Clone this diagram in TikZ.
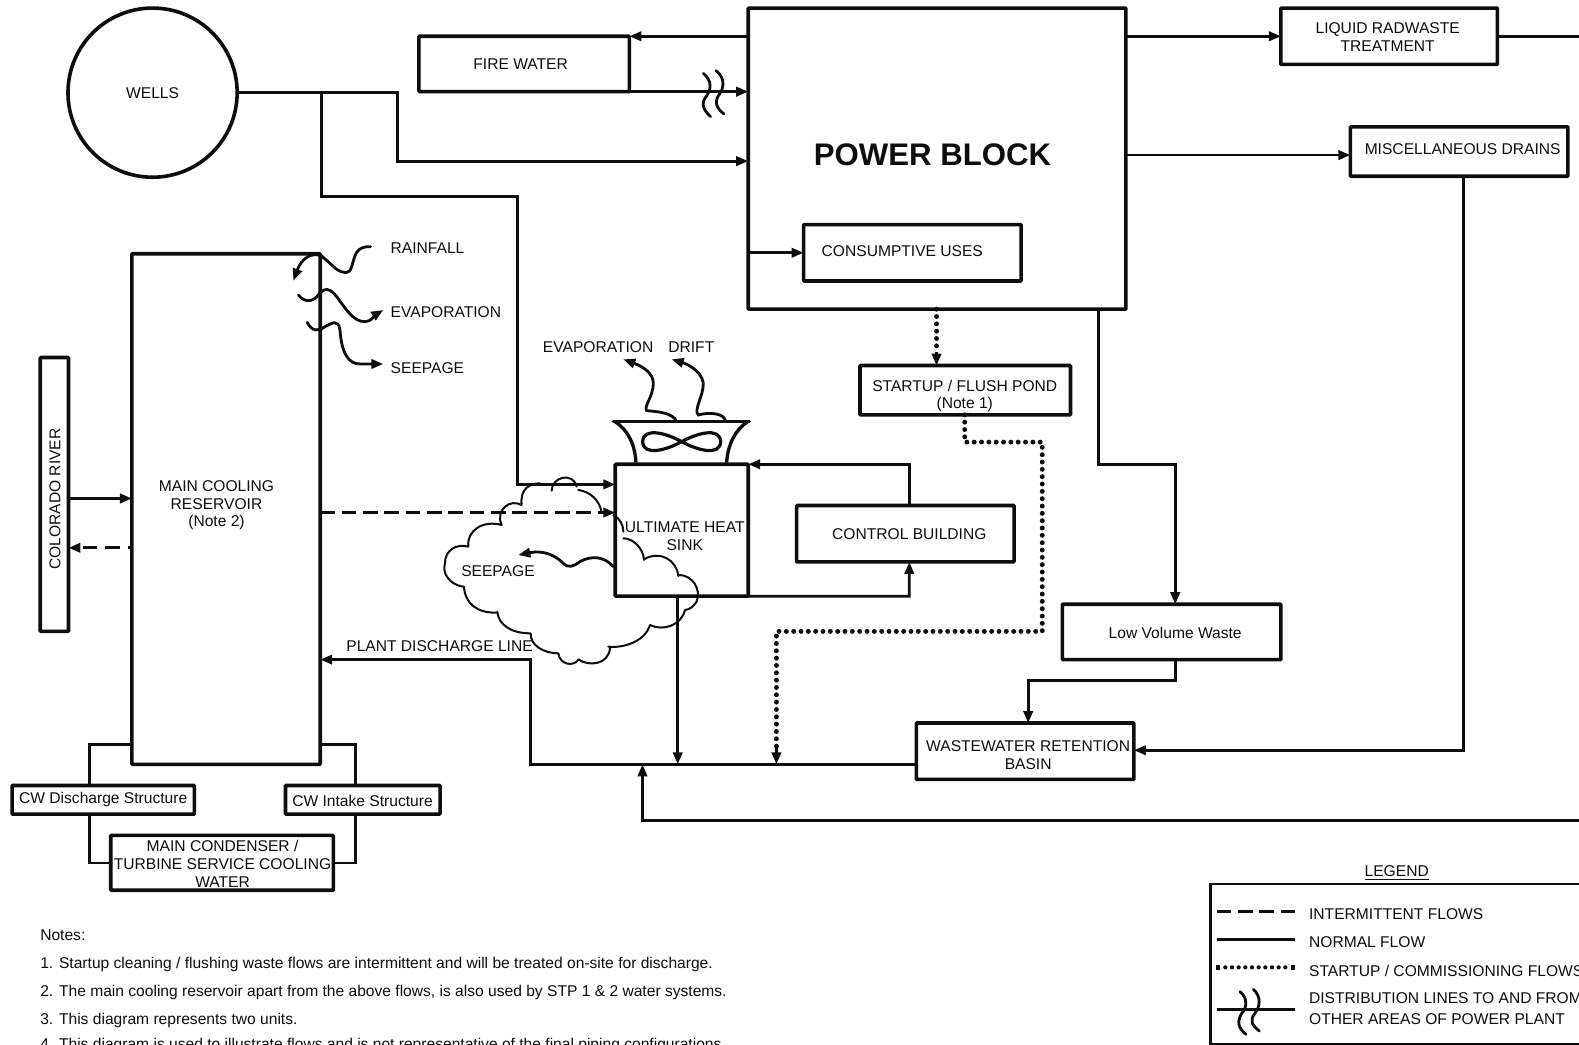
\documentclass[tikz,border=0pt]{standalone}
\usepackage{fontspec}
\setmainfont{Liberation Sans}
\usetikzlibrary{arrows.meta,calc}
\definecolor{ink}{gray}{0.05}
\tikzset{
  box/.style={draw=ink,line width=2.7pt,inner sep=0pt,outer sep=0pt,align=center,font=\fontsize{11.7}{13.6}\selectfont,text=ink,rounded corners=0.6pt},
  lbl/.style={inner sep=0pt,outer sep=0pt,align=center,font=\fontsize{11.7}{13.6}\selectfont,text=ink,yshift=-0.5pt},
  tight/.style={font=\fontsize{11.7}{12.9}\selectfont},
  tip/.style={-{Triangle[length=9pt,width=7pt]}},
  flow/.style={draw=ink,line width=2.1pt,line join=miter},
  flowa/.style={flow,tip},
  dashflow/.style={flow,dash pattern=on 11pt off 5pt},
  dotflow/.style={draw=ink,line width=3.7pt,line cap=round,dash pattern=on 0pt off 5.5pt},
  wavy/.style={draw=ink,line width=2.1pt,line cap=round},
  cloudline/.style={draw=ink,line width=1.5pt,line cap=round},
}
\newcommand{\bx}[6]{\node[box,minimum width={(#4-#2)*0.7553pt},minimum height={(#5-#3)*0.7553pt}] (#1) at ({(#2+#4)/2},{(#3+#5)/2}) {#6};}
\begin{document}
\begin{tikzpicture}[x=0.7553pt,y=-0.7553pt]
\useasboundingbox (0,0) rectangle (1568,1037.7);
% boxes
\node[box,circle,minimum size={168*0.7553pt}] (wells) at (151.5,92) {WELLS};
\bx{fw}{416}{36}{625}{91}{}
\node[lbl] (fwlbl) at (517,63) {FIRE WATER};
\bx{pb}{743}{8}{1118}{307}{}
\node[lbl,font=\fontsize{23.4}{26}\selectfont\bfseries] (pblbl) at (926,153) {POWER BLOCK};
\bx{lrw}{1272}{8}{1487}{64}{}
\node[lbl] (lrwlbl) at (1378,36) {LIQUID RADWASTE\\TREATMENT};
\bx{misc}{1341}{126}{1557}{175}{}
\node[lbl] (misclbl) at (1452.5,147) {MISCELLANEOUS DRAINS};
\bx{cons}{798}{223}{1014}{279}{}
\node[lbl] (conslbl) at (896,249) {CONSUMPTIVE USES};
\bx{start}{854}{363}{1063}{412}{}
\node[lbl,tight] (startlbl) at (958,392.5) {STARTUP / FLUSH POND\\(Note 1)};
\bx{mcr}{131}{252}{318}{759}{}
\node[lbl,tight] (mcrlbl) at (215,501) {MAIN COOLING\\RESERVOIR\\(Note 2)};
\bx{cr}{40}{355}{68}{627}{}
\node[lbl,rotate=90] (crlbl) at (54.5,495) {COLORADO RIVER};
\bx{uhs}{611}{461}{743}{592}{}
\node[lbl] (uhslbl) at (680,532) {ULTIMATE HEAT\\SINK};
\bx{ctrl}{791}{502}{1007}{558}{}
\node[lbl] (ctrllbl) at (903,530) {CONTROL BUILDING};
\bx{lvw}{1055}{600}{1272}{655}{}
\node[lbl] (lvwlbl) at (1167,628) {Low Volume Waste};
\bx{wrb}{910}{718}{1126}{774}{}
\node[lbl] (wrblbl) at (1021,749) {WASTEWATER RETENTION\\BASIN};
\bx{cwd}{12}{780}{193}{808.5}{}
\node[lbl] (cwdlbl) at (102.5,793.5) {CW Discharge Structure};
\bx{cwi}{283.5}{780}{437}{808.5}{}
\node[lbl] (cwilbl) at (360,795) {CW Intake Structure};
\bx{mc}{110}{829.5}{331}{884}{}
\node[lbl] (mclbl) at (221,857) {MAIN CONDENSER /\\TURBINE SERVICE COOLING\\WATER};
% connectors
\coordinate (jw) at (319,0 |- wells.east);
\coordinate (off1) at (1568,36);
\coordinate (off2) at (1568,815);
\draw[flow] (wells.east) -- (jw);
\draw[flowa] (jw) -- (395,0 |- jw) -- (395,160) -- (pb.west |- 0,160);
\draw[flowa] (jw) -- (319,195) -- (514,195) -- (514,481) -- (uhs.west |- 0,481);
\draw[flowa] (pb.west |- fw.north) -- (fw.north east);
\draw[flowa] (fw.south east) -- (pb.west |- fw.south);
\draw[flowa] (pb.east |- off1) -- (lrw.west |- off1);
\draw[flow] (lrw.east |- off1) -- (off1);
\draw[flowa] (pb.east |- 0,154) -- (misc.west |- 0,154);
\draw[flowa] (1453,0 |- misc.south) -- (1453,745) -- (wrb.east |- 0,745);
\draw[flowa] (pb.west |- 0,251) -- (cons.west |- 0,251);
\draw[dotflow] (930,0 |- pb.south) -- (930,350);
\draw[flow,tip] (930,350) -- (930,0 |- start.north);
\draw[dotflow] (958,0 |- start.south) -- (958,439) -- (1035,439) -- (1035,627) -- (771,627) -- (771,745);
\draw[flow,tip] (771,743) -- (771,759);
\draw[flowa] (1091,0 |- pb.south) -- (1091,461) -- (1167,461) -- (1167,0 |- lvw.north);
\draw[flowa] (1167,0 |- lvw.south) -- (1167,676) -- (1021,676) -- (1021,0 |- wrb.north);
\draw[flowa] (wrb.west |- 0,759) -- (527,759) -- (527,655) -- (mcr.east |- 0,655);
\draw[flowa] (673,0 |- uhs.south) -- (673,759);
\draw[flowa] (off2) -- (638,815) -- (638,759);
\draw[flowa] (903,0 |- ctrl.north) -- (903,461) -- (uhs.east |- 0,461);
\draw[flowa] (uhs.south east) -- (903,592) -- (903,0 |- ctrl.south);
\draw[flowa] (cr.east |- 0,495) -- (mcr.west |- 0,495);
\draw[flow,tip,dash pattern=on 11pt off 6pt,dash phase=8pt] (mcr.west |- 0,544) -- (cr.east |- 0,544);
\draw[dashflow,tip] (mcr.east |- 0,509) -- (uhs.west |- 0,509);
\draw[flow] (mcr.west |- 0,739) -- (89,739) -- (89,0 |- cwd.north);
\draw[flow] (mcr.east |- 0,739) -- (353,739) -- (353,0 |- cwi.north);
\draw[flow] (89,0 |- cwd.south) -- (89,857) -- (mc.west |- 0,857);
\draw[flow] (353,0 |- cwi.south) -- (353,857) -- (mc.east |- 0,857);
% distribution break on the fire water line
\begin{scope}[shift={(595.8,19.86)},x=0.25pt,y=-0.25pt]
  \draw[wavy] (310,160) .. controls (340,185) and (330,210) .. (322,225) .. controls (300,250) and (310,270) .. (332,290);
  \draw[wavy] (348,152) .. controls (378,175) and (370,205) .. (360,220) .. controls (340,245) and (350,265) .. (372,282);
\end{scope}
% squiggles, tower, cloud
\begin{scope}[shift={(278.05,218.47)},x=0.25pt,y=-0.25pt]
  \draw[wavy,tip] (272,80) .. controls (225,78) and (225,110) .. (215,140) .. controls (208,165) and (190,160) .. (170,148) -- (125,108) .. controls (95,95) and (65,115) .. (40,182);
  \draw[wavy,tip] (55,225) .. controls (75,250) and (100,245) .. (115,225) .. controls (135,200) and (150,205) .. (170,230) .. controls (200,270) and (220,305) .. (255,305) .. controls (275,305) and (285,285) .. (310,270);
  \draw[wavy,tip] (82,307) .. controls (95,335) and (115,335) .. (135,320) .. controls (155,310) and (175,295) .. (180,330) .. controls (185,400) and (205,432) .. (240,432) -- (310,432);
  \draw[wavy,tip] (1190,605) .. controls (1180,580) and (1140,575) .. (1100,572) .. controls (1090,560) and (1120,530) .. (1120,490) .. controls (1120,460) and (1090,440) .. (1030,418);
  \draw[wavy,tip] (1337,605) .. controls (1335,580) and (1290,575) .. (1255,585) .. controls (1240,570) and (1270,530) .. (1270,490) .. controls (1265,450) and (1215,430) .. (1175,418);
  \draw[wavy,tip] (1000,1040) .. controls (975,1010) and (935,1005) .. (900,1025) .. controls (880,1040) and (865,1045) .. (850,1030) .. controls (825,1005) and (790,990) .. (715,1005);
  % cooling tower
  \draw[flow,line width=2.5pt,line cap=round] (1000,605) -- (1408,605);
  \draw[flow,line width=2.5pt] (1005,605) .. controls (1045,630) and (1065,675) .. (1068,728);
  \draw[flow,line width=2.5pt] (1403,605) .. controls (1365,630) and (1343,675) .. (1340,728);
  \draw[flow,line width=2.4pt] (1205,665) .. controls (1250,640) and (1320,620) .. (1322,665) .. controls (1320,710) and (1250,690) .. (1205,665) .. controls (1160,640) and (1090,620) .. (1088,665) .. controls (1090,710) and (1160,690) .. (1205,665);
  % cloud
  \draw[cloudline]
    (725,855) .. controls (720,810) and (745,790) .. (780,790)
    (815,812) .. controls (815,770) and (880,755) .. (890,800)
    (895,810) .. controls (930,815) and (960,840) .. (965,880)
    (1000,885) .. controls (1020,895) and (1030,915) .. (1030,935)
    (1030,955) .. controls (1060,955) and (1090,985) .. (1092,1020)
    (1092,1018) .. controls (1140,990) and (1190,1020) .. (1195,1068)
    (1197,1065) .. controls (1235,1065) and (1265,1105) .. (1250,1145) .. controls (1240,1160) and (1230,1168) .. (1215,1170)
    (1215,1170) .. controls (1205,1215) and (1150,1235) .. (1110,1215)
    (1110,1215) .. controls (1095,1265) and (1030,1285) .. (985,1280)
    (990,1285) .. controls (985,1335) and (925,1340) .. (895,1318)
    (895,1320) .. controls (880,1340) and (840,1335) .. (835,1300)
    (835,1300) .. controls (790,1300) and (750,1275) .. (752,1240)
    (750,1240) .. controls (695,1240) and (655,1215) .. (652,1175)
    (652,1178) .. controls (590,1180) and (555,1150) .. (552,1100)
    (550,1100) .. controls (510,1095) and (485,1060) .. (495,1030) .. controls (495,990) and (530,970) .. (565,980)
    (565,980) .. controls (560,930) and (610,900) .. (665,915)
    (665,915) .. controls (645,870) and (690,835) .. (725,855);
\end{scope}
% free labels
\node[lbl,anchor=west] (t1) at (388,246) {RAINFALL};
\node[lbl,anchor=west] (t2) at (388,309) {EVAPORATION};
\node[lbl,anchor=west] (t3) at (388,364.5) {SEEPAGE};
\node[lbl] (t4) at (594,344) {EVAPORATION};
\node[lbl] (t5) at (686.5,344) {DRIFT};
\node[lbl] (t6) at (494.5,566) {SEEPAGE};
\node[lbl] (t7) at (436.5,641) {PLANT DISCHARGE LINE};
% notes
\node[lbl,anchor=base west] (n0) at (40,933) {Notes:};
\node[lbl,anchor=base west] (n1) at (40,961) {1. Startup cleaning / flushing waste flows are intermittent and will be treated on-site for discharge.};
\node[lbl,anchor=base west] (n2) at (40,989) {2. The main cooling reservoir apart from the above flows, is also used by STP 1 \& 2 water systems.};
\node[lbl,anchor=base west] (n3) at (40,1017) {3. This diagram represents two units.};
\node[lbl,anchor=base west] (n4) at (40,1042) {4. This diagram is used to illustrate flows and is not representative of the final piping configurations.};
% legend
\node[lbl] (lg) at (1387,866) {\underline{LEGEND}};
\draw[draw=ink,line width=1.9pt] (1568,878) -- (1202,878) -- (1202,1036.5) -- (1568,1036.5);
\begin{scope}[shift={(1181.7,844.1)},x=0.25pt,y=-0.25pt]
  \draw[flow,dash pattern=on 11pt off 5pt] (80,185) -- (315,185);
  \draw[flow] (80,268) -- (315,268);
  \draw[dotflow,line width=3.2pt,dash pattern=on 0pt off 5pt] (106,352) -- (292,352);
  \draw[flow,line width=3pt] (85,345) -- (85,360) (310,345) -- (310,360);
  \draw[flow] (80,478) -- (315,478);
  \draw[wavy] (150,425) .. controls (175,445) and (170,475) .. (155,490) .. controls (140,515) and (145,535) .. (168,553);
  \draw[wavy] (190,418) .. controls (215,440) and (210,470) .. (195,490) .. controls (178,510) and (185,525) .. (208,543);
\end{scope}
\node[lbl,anchor=west] (l1) at (1300,907) {INTERMITTENT FLOWS};
\node[lbl,anchor=west] (l2) at (1300,935) {NORMAL FLOW};
\node[lbl,anchor=west] (l3) at (1300,963) {STARTUP / COMMISSIONING FLOWS};
\node[lbl,anchor=west] (l4) at (1300,990.5) {DISTRIBUTION LINES TO AND FROM};
\node[lbl,anchor=west] (l5) at (1300,1011.5) {OTHER AREAS OF POWER PLANT};
\end{tikzpicture}
\end{document}
